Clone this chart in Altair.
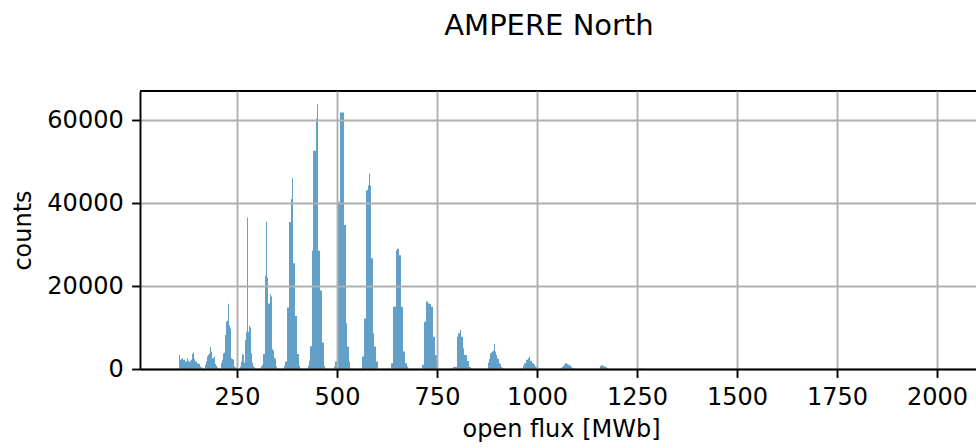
import altair as alt
import pandas as pd

# Histogram of AMPERE northern open flux, bins 2.5 MWb wide.
BIN_WIDTH = 2.5

# Left edge (MWb) of each run of consecutive non-empty bins
run_start = [105.0, 170.0, 210.0, 257.5, 310.0, 367.5, 427.5, 492.5, 562.5,
             635.0, 712.5, 790.0, 877.5, 965.0, 1060.0, 1157.5, 1260.0]

# Counts in each run, bin by bin
run_counts = [
    [3400, 2200, 2400, 2600, 2200, 2200, 1800, 1800, 2600, 2000, 1600, 2000,
     2200, 3600, 4000, 2400, 1800, 1800, 1400, 1300, 1200, 600, 400, 300],
    [1000, 1800, 3000, 3400, 3800, 5300, 4200, 2600, 2600, 3000, 1200, 800, 400],
    [1500, 2200, 3800, 4000, 8200, 11400, 11600, 15700, 10500, 9800, 2600, 2400,
     2200, 600, 400],
    [600, 1800, 3600, 3400, 1500, 7000, 9000, 36500, 9000, 10400, 10000, 3800,
     1500, 700, 400],
    [600, 1000, 3600, 3600, 22500, 35500, 22000, 15800, 15800, 18000, 17500,
     4800, 4400, 2800, 2400, 600],
    [800, 1800, 1800, 14800, 14800, 35400, 35400, 41000, 46000, 25500, 25500,
     12800, 12800, 3600, 3600, 800],
    [800, 2000, 5500, 5500, 28500, 52600, 52600, 52600, 60400, 63800, 28500,
     28500, 18900, 18900, 6400, 6400, 800],
    [600, 1800, 1800, 40300, 40300, 40300, 61800, 61800, 61800, 61800, 34700,
     34700, 11000, 5400, 5400, 1800],
    [3000, 3000, 12200, 12200, 43100, 43100, 44200, 47100, 44200, 26700, 26700,
     8600, 5400, 5400, 1800, 1800],
    [1400, 1400, 15000, 15000, 15000, 28600, 29000, 29000, 27400, 27400, 15000,
     15000, 4200, 4200, 1400, 1400, 600],
    [1000, 1000, 11400, 11400, 16200, 16200, 15800, 15800, 15600, 15000, 15000,
     7800, 7800, 3400, 3400],
    [500, 500, 500, 500, 7800, 8600, 8600, 9400, 7800, 7800, 5000, 3400, 3400,
     3400, 1900, 1900, 500, 500],
    [1500, 2400, 3800, 4000, 4200, 4400, 6000, 4200, 3400, 2600, 2400, 1400,
     1200, 500, 300],
    [800, 1400, 1400, 2200, 2200, 2600, 3000, 2000, 1900, 1400, 1400, 1000, 600, 400],
    [300, 500, 800, 1000, 1400, 1400, 1200, 1000, 1000, 800, 500, 300, 200, 100],
    [700, 900, 900, 700, 600, 500, 400, 200],
    [250, 150],
]

x_ticks = [250, 500, 750, 1000, 1250, 1500, 1750, 2000]
y_ticks = [0, 20000, 40000, 60000]

flux_left, flux_right, counts = [], [], []
for start, run in zip(run_start, run_counts):
    for i, c in enumerate(run):
        left = start + i * BIN_WIDTH
        flux_left.append(left)
        flux_right.append(left + BIN_WIDTH)
        counts.append(c)

hist = pd.DataFrame({"flux_left": flux_left, "flux_right": flux_right, "count": counts})

FONT = "DejaVu Sans"
axis_style = dict(
    labelFont=FONT, labelFontSize=24, labelColor="black",
    titleFont=FONT, titleFontSize=24, titleFontWeight="normal", titleColor="black",
    tickColor="black", tickWidth=1.9, tickSize=8.4,
    domainColor="black", domainWidth=1.9,
    grid=True, gridColor="#b0b0b0", gridWidth=1.9,
    labelPadding=8.4, labelOverlap=False, labelFlush=False, zindex=1,
)

bars = alt.Chart(hist).mark_rect(color="#1f77b4", opacity=0.7).encode(
    x=alt.X(
        "flux_left:Q",
        scale=alt.Scale(domain=[7.5, 2097.5], nice=False, zero=False),
        axis=alt.Axis(
            values=x_ticks, format="d", title="open flux [MWb]",
            titleX=421, titleY=67, titleBaseline="alphabetic", titleAlign="center",
            **axis_style,
        ),
    ),
    x2="flux_right:Q",
    y=alt.Y(
        "count:Q",
        scale=alt.Scale(domain=[0, 67000], nice=False),
        axis=alt.Axis(
            values=y_ticks, format="d", title="counts",
            titleAngle=270, titleX=-110, titleY=139,
            titleBaseline="alphabetic", titleAlign="center",
            **axis_style,
        ),
    ),
    y2=alt.datum(0),
)

# top spine of the axes frame
top_edge = alt.Chart(pd.DataFrame({"edge": [0]})).mark_rule(
    color="black", strokeWidth=1.9
).encode(y=alt.value(0))

chart = alt.layer(bars, top_edge).properties(
    width=836,
    height=278,
    title=alt.TitleParams(
        "AMPERE North", font=FONT, fontSize=29, fontWeight="normal", color="black",
        anchor="middle", frame="group", baseline="alphabetic", offset=26, dx=-9,
    ),
    autosize=alt.AutoSizeParams(type="none"),
    padding={"left": 140, "top": 91, "right": 0, "bottom": 79},
).configure_view(stroke=None)

chart.save("out.html", embed_options={"renderer": "svg", "actions": False})
